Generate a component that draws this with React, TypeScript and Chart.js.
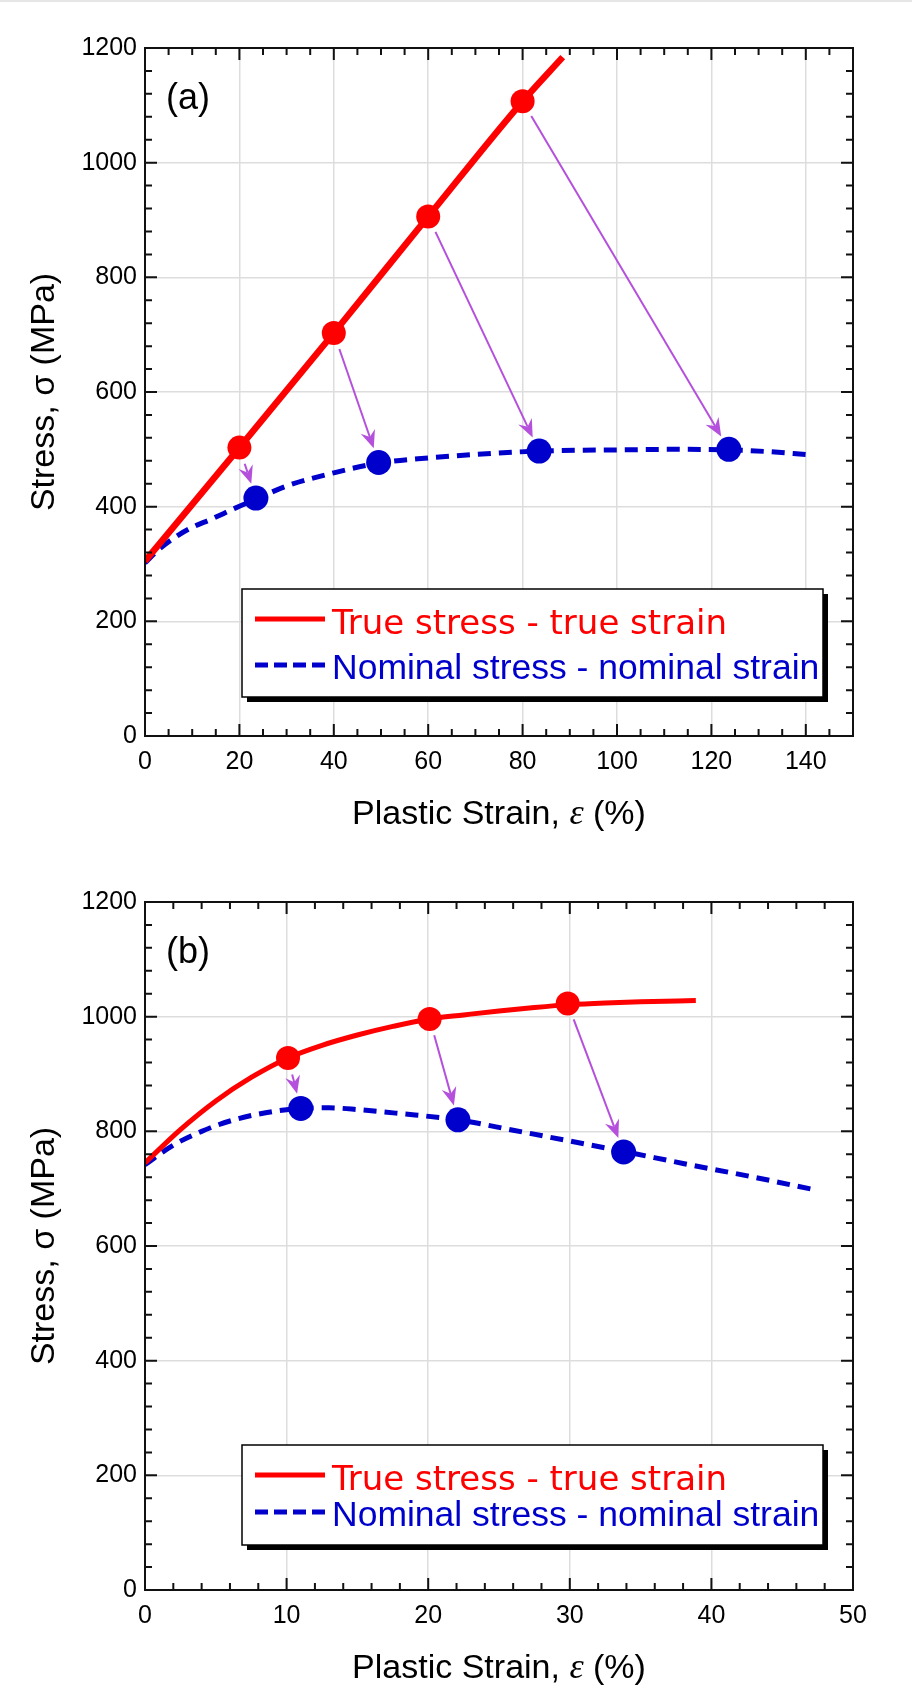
import React, { useEffect, useRef } from 'react';
import { Chart, registerables } from 'chart.js';

Chart.register(...registerables);

// panel (a)
const trueStrainA = [0, 20, 40, 60, 80, 88.5];
const trueStressA = [305, 503, 703, 906, 1107, 1184];
const nomStrainA = [0, 3, 7, 10, 14, 19, 23.5, 30, 40, 49.5, 60, 70, 83.5, 100, 112, 123.7, 132, 140];
const nomStressA = [302, 326, 350, 364, 378, 397, 413, 436, 459, 476, 485, 491, 497, 499, 500, 499, 496, 491];
const trueMarkStrainA = [20, 40, 60, 80];
const trueMarkStressA = [503, 703, 906, 1107];
const nomMarkStrainA = [23.5, 49.5, 83.5, 123.7];
const nomMarkStressA = [415, 477, 497, 500];

// panel (b)
const trueStrainB = [0, 2.5, 5, 7.5, 10.1, 12.5, 15, 17.5, 20.1, 22.5, 25, 27.5, 30, 32.5, 35, 38.9];
const trueStressB = [745, 803, 853, 894, 928, 950, 968, 983, 996, 1003, 1010, 1016, 1021, 1024, 1026, 1028];
const nomStrainB = [0, 2, 4, 6, 8, 11, 13, 15, 18, 22.1, 26, 30, 33.8, 38, 43, 47.5];
const nomStressB = [742, 776, 800, 818, 830, 840, 841, 838, 831, 820, 802, 783, 765, 744, 720, 697];
const trueMarkStrainB = [10.1, 20.1, 29.85];
const trueMarkStressB = [928, 996, 1023];
const nomMarkStrainB = [11, 22.1, 33.8];
const nomMarkStressB = [840, 820, 764];

const xTicksA = [0, 20, 40, 60, 80, 100, 120, 140];
const xTicksB = [0, 10, 20, 30, 40, 50];
const yTicks = [0, 200, 400, 600, 800, 1000, 1200];

const legendLabels = ['True stress - true strain', 'Nominal stress - nominal strain'];
const xTitleParts = ['Plastic Strain, ', 'ε', ' (%)'];

const RED = '#ff0000';
const BLUE = '#0000cc';
const PURPLE = '#b450dc';
const GRID = '#dddddd';
const INK = '#111111';
const SANS = '"Liberation Sans", Arial, sans-serif';

type PanelProps = {
  label: string;
  xMax: number;
  xTicks: number[];
  xMinor: number;
  xMajor: number;
  trueX: number[];
  trueY: number[];
  nomX: number[];
  nomY: number[];
  trueMX: number[];
  trueMY: number[];
  nomMX: number[];
  nomMY: number[];
  trueWidth: number;
  legend: { top: number; bottom: number; row1: number; row2: number };
};

const pts = (xs: number[], ys: number[]) => xs.map((x, i) => ({ x, y: ys[i] }));

function drawArrow(ctx: CanvasRenderingContext2D, x1: number, y1: number, x2: number, y2: number) {
  const ang = Math.atan2(y2 - y1, x2 - x1);
  const c = Math.cos(ang);
  const s = Math.sin(ang);
  const sx = x1 + c * 17;
  const sy = y1 + s * 17;
  const tx = x2 - c * 15;
  const ty = y2 - s * 15;
  const head = 18;
  const notch = 12;
  const half = 7.5;
  ctx.strokeStyle = PURPLE;
  ctx.fillStyle = PURPLE;
  ctx.lineWidth = 2;
  ctx.beginPath();
  ctx.moveTo(sx, sy);
  ctx.lineTo(tx - c * notch, ty - s * notch);
  ctx.stroke();
  ctx.beginPath();
  ctx.moveTo(tx, ty);
  ctx.lineTo(tx - c * head - s * half, ty - s * head + c * half);
  ctx.lineTo(tx - c * notch, ty - s * notch);
  ctx.lineTo(tx - c * head + s * half, ty - s * head - c * half);
  ctx.closePath();
  ctx.fill();
}

const Panel: React.FC<PanelProps> = (p) => {
  const canvasRef = useRef<HTMLCanvasElement>(null);

  useEffect(() => {
    if (!canvasRef.current) return;

    const decor = {
      id: 'decor',
      afterDatasetsDraw(chart: any) {
        const { ctx, chartArea: a, scales } = chart;
        const xs = scales.x;
        const ys = scales.y;
        ctx.save();

        // arrows from true points to nominal points
        for (let i = 0; i < p.trueMX.length; i++) {
          drawArrow(
            ctx,
            xs.getPixelForValue(p.trueMX[i]), ys.getPixelForValue(p.trueMY[i]),
            xs.getPixelForValue(p.nomMX[i]), ys.getPixelForValue(p.nomMY[i])
          );
        }

        // frame
        ctx.strokeStyle = INK;
        ctx.lineWidth = 2;
        ctx.strokeRect(a.left, a.top, a.right - a.left, a.bottom - a.top);

        // inward ticks on all sides
        ctx.beginPath();
        const nx = Math.round(p.xMax / p.xMinor);
        for (let i = 1; i < nx; i++) {
          const v = i * p.xMinor;
          const px = xs.getPixelForValue(v);
          const len = Math.abs(v % p.xMajor) < 1e-6 ? 12 : 7;
          ctx.moveTo(px, a.bottom);
          ctx.lineTo(px, a.bottom - len);
          ctx.moveTo(px, a.top);
          ctx.lineTo(px, a.top + len);
        }
        for (let i = 1; i < 30; i++) {
          const v = i * 40;
          const py = ys.getPixelForValue(v);
          const len = v % 200 === 0 ? 12 : 7;
          ctx.moveTo(a.left, py);
          ctx.lineTo(a.left + len, py);
          ctx.moveTo(a.right, py);
          ctx.lineTo(a.right - len, py);
        }
        ctx.stroke();

        // panel label
        ctx.fillStyle = '#000';
        ctx.font = `36px ${SANS}`;
        ctx.textAlign = 'left';
        ctx.textBaseline = 'alphabetic';
        ctx.fillText(p.label, 166, 109);

        // x axis title with italic epsilon
        const fonts = [`34px ${SANS}`, 'italic 36px "Liberation Serif", serif', `34px ${SANS}`];
        const widths = xTitleParts.map((t, i) => {
          ctx.font = fonts[i];
          return ctx.measureText(t).width;
        });
        let tx = (a.left + a.right) / 2 - widths.reduce((s, w) => s + w, 0) / 2;
        xTitleParts.forEach((t, i) => {
          ctx.font = fonts[i];
          ctx.fillText(t, tx, 824);
          tx += widths[i];
        });

        // legend box
        const L = p.legend;
        const bx = 242;
        const bw = 823 - bx;
        const bh = L.bottom - L.top;
        ctx.fillStyle = '#000';
        ctx.fillRect(bx + 5, L.top + 5, bw, bh);
        ctx.fillStyle = '#fff';
        ctx.fillRect(bx, L.top, bw, bh);
        ctx.strokeStyle = '#000';
        ctx.lineWidth = 1.5;
        ctx.strokeRect(bx, L.top, bw, bh);

        ctx.lineWidth = 5;
        ctx.strokeStyle = RED;
        ctx.beginPath();
        ctx.moveTo(255, L.row1 - 15);
        ctx.lineTo(325, L.row1 - 15);
        ctx.stroke();
        ctx.strokeStyle = BLUE;
        ctx.setLineDash([13, 6]);
        ctx.beginPath();
        ctx.moveTo(255, L.row2 - 14);
        ctx.lineTo(325, L.row2 - 14);
        ctx.stroke();
        ctx.setLineDash([]);

        ctx.fillStyle = RED;
        ctx.font = '34px "DejaVu Sans", sans-serif';
        ctx.fillText(legendLabels[0], 332, L.row1);
        ctx.fillStyle = BLUE;
        ctx.font = `35.5px ${SANS}`;
        ctx.fillText(legendLabels[1], 332, L.row2);

        ctx.restore();
      },
    };

    const chart = new Chart(canvasRef.current, {
      type: 'line',
      data: {
        datasets: [
          {
            label: 'true points',
            data: pts(p.trueMX, p.trueMY),
            showLine: false,
            pointRadius: 12,
            pointBackgroundColor: RED,
            pointBorderWidth: 0,
            order: 0,
          },
          {
            label: 'nominal points',
            data: pts(p.nomMX, p.nomMY),
            showLine: false,
            pointRadius: 12.5,
            pointBackgroundColor: BLUE,
            pointBorderWidth: 0,
            order: 0,
          },
          {
            label: legendLabels[0],
            data: pts(p.trueX, p.trueY),
            borderColor: RED,
            borderWidth: p.trueWidth,
            pointRadius: 0,
            cubicInterpolationMode: 'monotone',
            order: 1,
          },
          {
            label: legendLabels[1],
            data: pts(p.nomX, p.nomY),
            borderColor: BLUE,
            borderWidth: 5,
            borderDash: [13, 8],
            pointRadius: 0,
            cubicInterpolationMode: 'monotone',
            order: 1,
          },
        ],
      },
      options: {
        animation: false,
        responsive: false,
        events: [],
        layout: { padding: { top: 48, right: 59, bottom: 0, left: 0 } },
        plugins: { legend: { display: false }, tooltip: { enabled: false } },
        scales: {
          x: {
            type: 'linear',
            min: 0,
            max: p.xMax,
            afterBuildTicks: (s: any) => {
              s.ticks = p.xTicks.map((v) => ({ value: v }));
            },
            afterFit: (s: any) => {
              s.height = 118;
            },
            grid: { color: GRID, lineWidth: 1.5, drawTicks: false },
            border: { display: false },
            ticks: {
              padding: 11,
              color: '#000',
              maxRotation: 0,
              autoSkip: false,
              font: { family: SANS, size: 25 },
              callback: (v: any) => String(v),
            },
            title: { display: false },
          },
          y: {
            type: 'linear',
            min: 0,
            max: 1200,
            afterBuildTicks: (s: any) => {
              s.ticks = yTicks.map((v) => ({ value: v }));
            },
            afterFit: (s: any) => {
              s.width = 145;
            },
            grid: { color: GRID, lineWidth: 1.5, drawTicks: false },
            border: { display: false },
            ticks: {
              padding: 8,
              color: '#000',
              autoSkip: false,
              font: { family: SANS, size: 25 },
              callback: (v: any) => String(v),
            },
            title: {
              display: true,
              text: 'Stress, σ (MPa)',
              color: '#000',
              font: { family: SANS, size: 34 },
              padding: { top: 24, bottom: 0 },
            },
          },
        },
      },
      plugins: [decor],
    });

    return () => {
      chart.destroy();
    };
  }, [p]);

  return <canvas ref={canvasRef} width={912} height={854} style={{ display: 'block', width: 912, height: 854 }} />;
};

const panelA: PanelProps = {
  label: '(a)',
  xMax: 150,
  xTicks: xTicksA,
  xMinor: 5,
  xMajor: 20,
  trueX: trueStrainA,
  trueY: trueStressA,
  nomX: nomStrainA,
  nomY: nomStressA,
  trueMX: trueMarkStrainA,
  trueMY: trueMarkStressA,
  nomMX: nomMarkStrainA,
  nomMY: nomMarkStressA,
  trueWidth: 6.5,
  legend: { top: 589, bottom: 697, row1: 634, row2: 679 },
};

const panelB: PanelProps = {
  label: '(b)',
  xMax: 50,
  xTicks: xTicksB,
  xMinor: 2,
  xMajor: 10,
  trueX: trueStrainB,
  trueY: trueStressB,
  nomX: nomStrainB,
  nomY: nomStressB,
  trueMX: trueMarkStrainB,
  trueMY: trueMarkStressB,
  nomMX: nomMarkStrainB,
  nomMY: nomMarkStressB,
  trueWidth: 5,
  legend: { top: 591, bottom: 691, row1: 636, row2: 672 },
};

export default function App() {
  return (
    <div style={{ position: 'absolute', left: 0, top: 0, width: 912, height: 1708, background: '#fff' }}>
      <div style={{ height: 2, background: '#e6e6e6', position: 'absolute', left: 0, top: 0, width: 912 }} />
      <Panel {...panelA} />
      <Panel {...panelB} />
    </div>
  );
}
